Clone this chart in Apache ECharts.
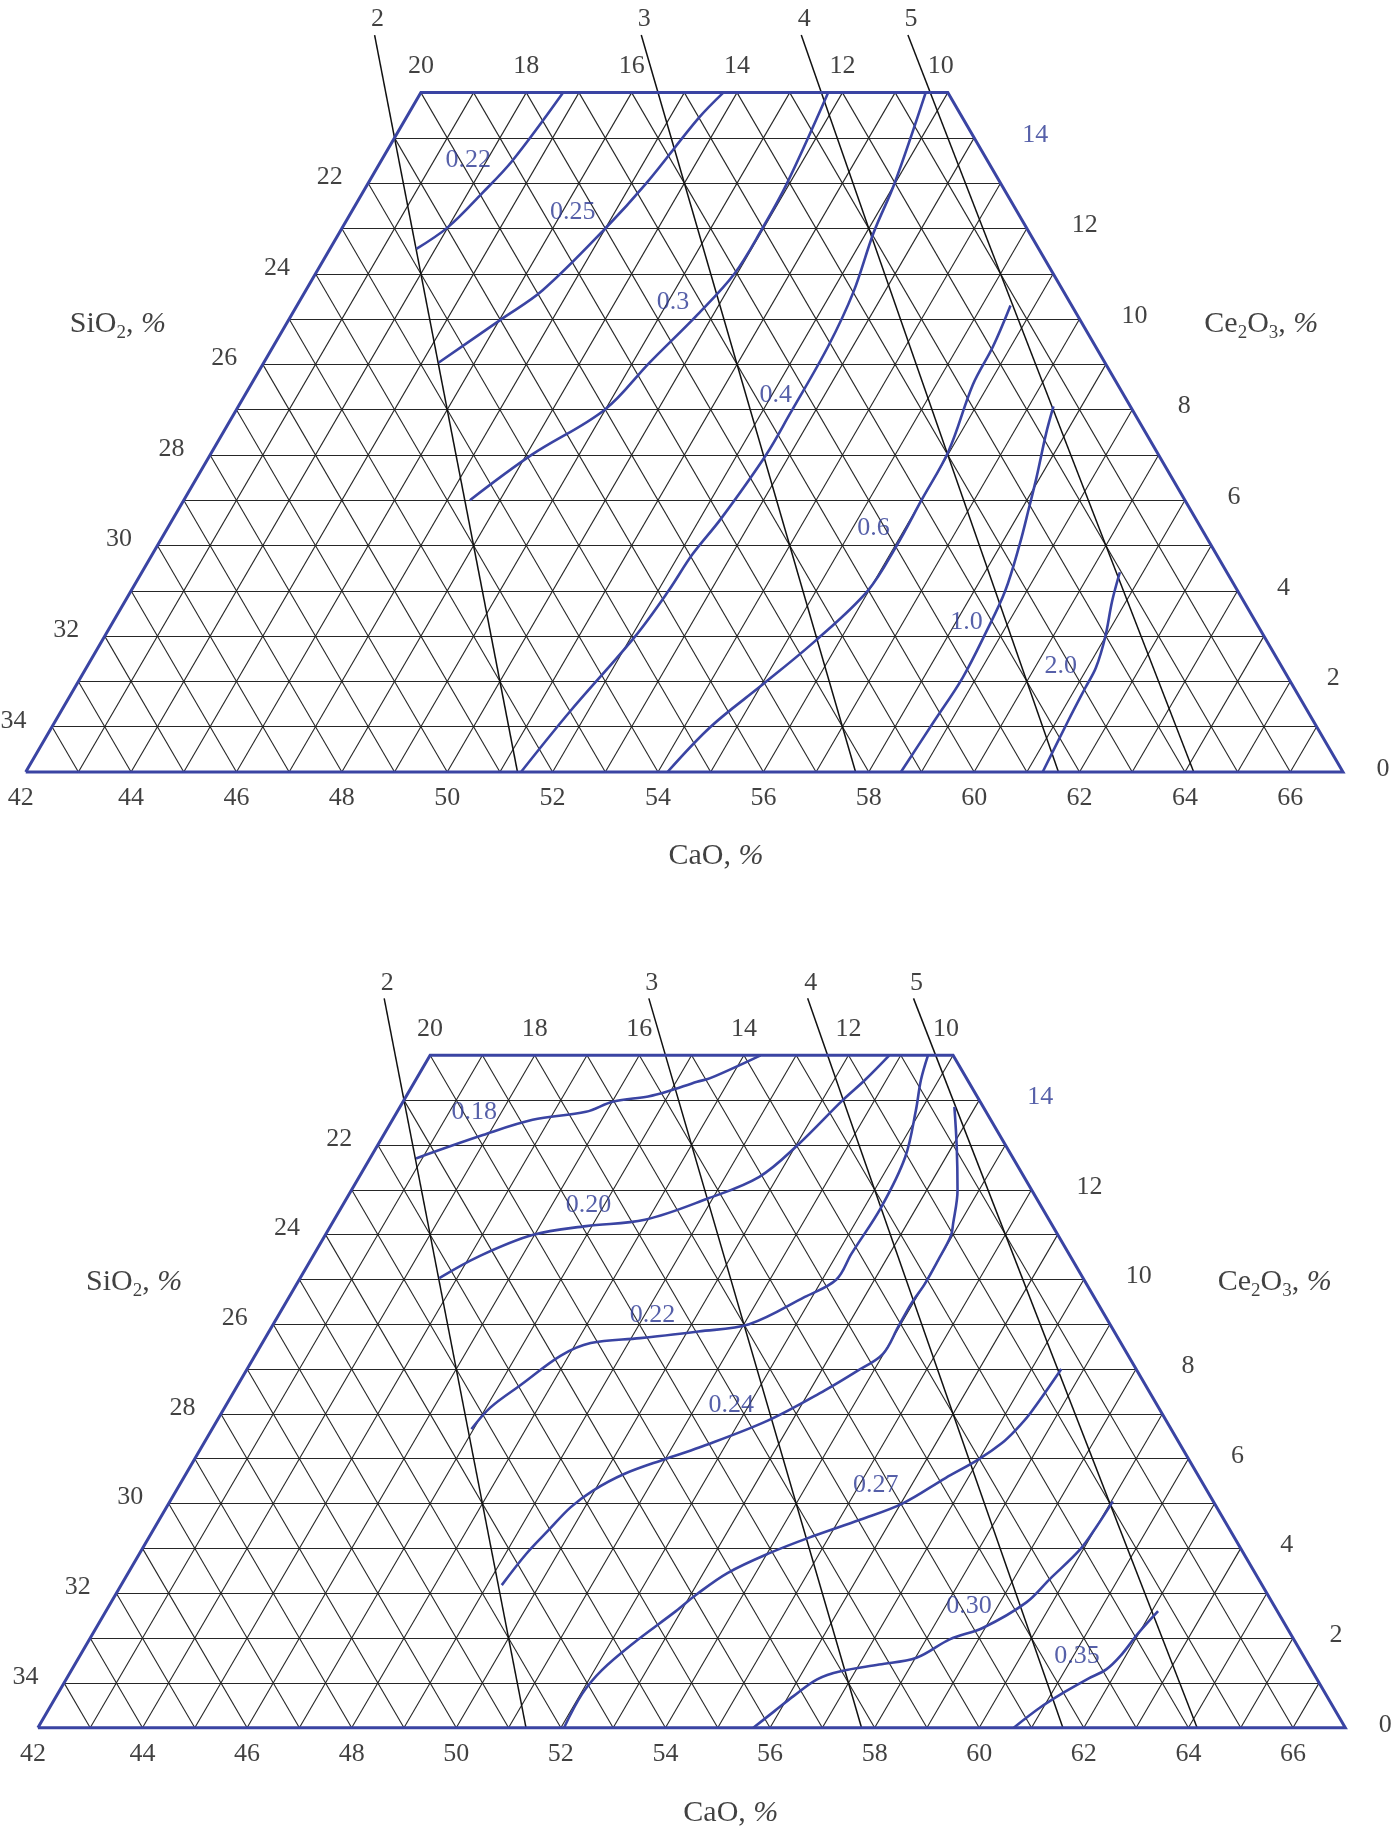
<!DOCTYPE html>
<html><head><meta charset="utf-8">
<script src="https://cdn.jsdelivr.net/npm/echarts@6/dist/echarts.min.js"></script>
<style>html,body{margin:0;padding:0;background:#fff}#c{width:1394px;height:1833px}</style>
</head><body><div id="c"></div>
<script>
// ---------------- DATA ----------------
const CAO_TICKS = [42, 44, 46, 48, 50, 52, 54, 56, 58, 60, 62, 64, 66];
const SIO2_LEFT_TICKS = [22, 24, 26, 28, 30, 32, 34];
const SIO2_TOP_TICKS = [20, 18, 16, 14, 12, 10];
const CE2O3_TICKS = [0, 2, 4, 6, 8, 10, 12, 14];
const BASICITY = [2, 3, 4, 5];            // CaO/SiO2 lines
const BASICITY_TOP_CE = 16.27;            // Ce2O3 where those lines end (above the diagram)

// isolines, points as [CaO %, Ce2O3 %]  -- upper diagram
const TOP_022 = [[44.7,15],[44.49,13.5],[44.27,12.77],[44.0,12.03],[43.64,11.55]];
const TOP_025 = [[47.74,15],[47.55,14.43],[47.28,13.0],[47.0,12.0],[46.49,10.63],[46.03,10.0],[45.32,9.04]];
const TOP_03  = [[49.73,15],[49.95,13.0],[49.98,12.0],[49.95,11.0],[49.7,10.1],[49.32,9.04],[48.99,8.0],[48.1,7.0],[47.43,6.0]];
const TOP_04  = [[51.58,15],[51.99,13.0],[52.14,11.9],[52.41,10.6],[52.53,9.4],[52.55,7.9],[52.55,7.0],[52.4,5.6],[52.25,4.8],[52.2,4.0],[52.07,3.0],[51.66,1.33],[51.4,0]];
const TOP_06  = [[55.54,10.3],[55.66,9.4],[55.7,8.55],[55.97,7.1],[56.0,6.0],[56.03,5.0],[55.98,4.0],[55.54,2.9],[55.02,1.93],[54.5,1.0],[54.18,0]];
const TOP_10  = [[57.47,8.07],[57.63,7.47],[57.93,6.51],[58.12,5.85],[58.35,5.03],[58.59,4.0],[58.68,3.11],[58.74,2.08],[58.68,1.12],[58.61,0]];
const TOP_20  = [[60.56,4.41],[60.73,3.78],[61.0,2.97],[61.16,2.3],[61.18,1.86],[61.22,1.12],[61.3,0]];
const TOP_NAMES = ['0.22', '0.25', '0.3', '0.4', '0.6', '1.0', '2.0'];
const TOP_LABEL_AT = [[43.65,13.5],[46.2,12.36],[49.1,10.37],[52.08,8.31],[55.4,5.38],[58.2,3.31],[60.48,2.33]];

// isolines -- lower diagram
const BOT_018 = [[42.88,12.7],[43.9,13.22],[44.68,13.56],[45.61,13.74],[46.02,13.97],[46.63,14.08],[46.94,14.19],[47.4,14.41],[47.61,14.49],[48.32,15]];
const BOT_020 = [[44.66,10.03],[45.17,10.51],[45.96,10.99],[46.89,11.19],[47.94,11.33],[48.9,11.8],[49.65,12.29],[50.03,13.0],[50.39,14.0],[50.59,14.45],[50.78,15]];
const BOT_022 = [[46.96,6.66],[47.08,7.14],[47.42,7.66],[47.85,8.3],[48.28,8.58],[49.17,8.69],[50.21,8.84],[51.1,9.0],[51.86,9.61],[52.27,10.0],[52.27,10.57],[52.32,11.62],[52.22,12.73],[51.9,13.78],[51.66,14.45],[51.52,15]];
const BOT_024 = [[49.28,3.18],[49.4,3.88],[49.56,4.4],[49.73,4.92],[49.97,5.29],[50.38,5.66],[50.99,5.99],[51.52,6.25],[52.53,6.85],[53.28,7.52],[53.7,7.97],[53.99,8.34],[53.98,8.94],[53.97,9.46],[54.01,9.9],[54.0,10.43],[53.97,10.98],[53.88,11.24],[53.59,11.99],[53.09,12.96],[52.6,13.85]];
const BOT_027 = [[52.06,0],[52.03,0.76],[52.14,1.28],[52.44,1.88],[52.9,2.6],[53.1,2.96],[53.46,3.45],[54.05,3.9],[54.68,4.27],[55.4,4.64],[56.03,5.0],[56.57,5.57],[56.99,5.98],[57.26,6.35],[57.38,6.65],[57.47,7.02],[57.57,8.0]];
const BOT_030 = [[55.68,0],[55.9,0.37],[56.1,0.71],[56.36,1.08],[56.72,1.26],[57.38,1.41],[58.02,1.56],[58.45,1.97],[58.96,2.23],[59.5,2.79],[59.69,3.31],[59.94,3.97],[60.0,4.49],[60.03,5.05]];
const BOT_035 = [[60.66,0],[60.94,0.45],[61.22,0.78],[61.52,1.08],[61.78,1.3],[61.9,1.6],[61.99,2.12],[62.12,2.6]];
const BOT_NAMES = ['0.18', '0.20', '0.22', '0.24', '0.27', '0.30', '0.35'];
const BOT_LABEL_AT = [[43.48,13.73],[46.7,11.66],[49.15,9.2],[51.66,7.2],[55.31,5.42],[58.45,2.71],[61.07,1.6]];

// ---------------- GEOMETRY ----------------
const SUM = 77;          // CaO + SiO2 + Ce2O3 in this section
const CAO_MIN = 42, CE_MAX = 15, SIO2_MIN = 10;
function xy(cao, ce) { return [cao - CAO_MIN + ce / 2, ce]; }

const BLUE = '#3a44a3', BLUE_TEXT = '#2c3893', GRIDC = '#262626', BLACK = '#111111';
const FONT = 'Liberation Serif';

function gridSegments() {
  const segs = [];
  for (let h = 1; h < CE_MAX; h++) segs.push({coords: [xy(CAO_MIN, h), xy(SUM - SIO2_MIN - h, h)]});
  for (let c = CAO_MIN + 1; c < SUM - SIO2_MIN; c++) {
    const t = Math.min(CE_MAX, SUM - SIO2_MIN - c);
    segs.push({coords: [xy(c, 0), xy(c, t)]});
  }
  for (let s = SIO2_MIN + 1; s < SUM - CAO_MIN; s++) {
    const t = Math.min(CE_MAX, SUM - CAO_MIN - s);
    segs.push({coords: [xy(SUM - s, 0), xy(SUM - s - t, t)]});
  }
  return segs;
}
function basicityCaO(k, ce) { return k * (SUM - ce) / (k + 1); }

function textSeries(i, data, label, z) {
  return {type: 'scatter', xAxisIndex: i, yAxisIndex: i, symbolSize: 1, silent: true, z: z || 10,
    itemStyle: {color: 'rgba(0,0,0,0)'}, clip: false, animation: false,
    label: Object.assign({show: true, fontFamily: FONT, fontSize: 26, color: BLACK,
      formatter: p => p.name}, label), data: data};
}

const panels = [
  {grid: {left: 25.7, top: 92.6, width: 1317.3, height: 679.4},
   iso: [TOP_022, TOP_025, TOP_03, TOP_04, TOP_06, TOP_10, TOP_20], names: TOP_NAMES, at: TOP_LABEL_AT,
   titles: {si: [1.75, 9.88], ce: [23.45, 9.88], ca: [13.1, -1.86]}},
  {grid: {left: 37.9, top: 1055.3, width: 1307.4, height: 672.4},
   iso: [BOT_018, BOT_020, BOT_022, BOT_024, BOT_027, BOT_030, BOT_035], names: BOT_NAMES, at: BOT_LABEL_AT,
   titles: {si: [1.84, 9.94], ce: [23.65, 9.94], ca: [13.25, -1.9]}}
];

const grids = [], xAxes = [], yAxes = [], series = [];
const richTitle = {
  t: {fontFamily: FONT, fontSize: 30, color: BLACK, lineHeight: 36},
  s: {fontFamily: FONT, fontSize: 19, color: BLACK, lineHeight: 23, verticalAlign: 'bottom'},
  i: {fontFamily: FONT, fontSize: 30, color: BLACK, lineHeight: 36, fontStyle: 'italic'}
};
panels.forEach((P, i) => {
  grids.push(Object.assign({containLabel: false}, P.grid));
  xAxes.push({type: 'value', gridIndex: i, min: 0, max: 25, show: false});
  yAxes.push({type: 'value', gridIndex: i, min: 0, max: CE_MAX, show: false});
  // triangular grid
  series.push({type: 'lines', coordinateSystem: 'cartesian2d', xAxisIndex: i, yAxisIndex: i, silent: true, z: 1,
    lineStyle: {color: GRIDC, width: 1.1, opacity: 1}, data: gridSegments(), animation: false});
  // basicity lines CaO/SiO2 = k
  series.push({type: 'lines', coordinateSystem: 'cartesian2d', xAxisIndex: i, yAxisIndex: i, silent: true, z: 2, clip: false,
    lineStyle: {color: BLACK, width: 1.5, opacity: 1}, animation: false,
    data: BASICITY.map(k => ({coords: [xy(basicityCaO(k, 0), 0), xy(basicityCaO(k, BASICITY_TOP_CE), BASICITY_TOP_CE)]}))});
  // isolines
  P.iso.forEach((pts, j) => series.push({type: 'line', name: P.names[j], xAxisIndex: i, yAxisIndex: i, silent: true, z: 4,
    clip: false, showSymbol: false, smooth: 0.35, animation: false,
    lineStyle: {color: BLUE, width: 2.6}, data: pts.map(p => xy(p[0], p[1]))}));
  // frame
  series.push({type: 'lines', coordinateSystem: 'cartesian2d', xAxisIndex: i, yAxisIndex: i, silent: true, z: 5, polyline: true, clip: false,
    lineStyle: {color: BLUE, width: 3, opacity: 1}, animation: false,
    data: [{coords: [xy(CAO_MIN, 0), xy(SUM - SIO2_MIN, 0), xy(SUM - SIO2_MIN - CE_MAX, CE_MAX), xy(CAO_MIN, CE_MAX), xy(CAO_MIN, 0)]}]});
  // tick labels
  series.push(textSeries(i, CAO_TICKS.map(c => ({name: String(c), value: xy(c, 0),
    label: c === CAO_MIN ? {offset: [-5, 0]} : undefined})), {position: 'bottom', distance: 13}));
  series.push(textSeries(i, SIO2_LEFT_TICKS.map(s => ({name: String(s), value: xy(CAO_MIN, SUM - CAO_MIN - s)})), {position: 'left', distance: 25, offset: [0, -6]}));
  series.push(textSeries(i, SIO2_TOP_TICKS.map(s => ({name: String(s), value: xy(SUM - CE_MAX - s, CE_MAX),
    label: s === SIO2_MIN ? {offset: [-7, 0]} : undefined})), {position: 'top', distance: 13}));
  series.push(textSeries(i, CE2O3_TICKS.map(c => ({name: String(c), value: xy(SUM - SIO2_MIN - c, c),
    label: {offset: [40 + 1.5 * c, -3], color: c === 14 ? BLUE_TEXT : BLACK}})), {position: 'inside'}));
  series.push(textSeries(i, BASICITY.map(k => ({name: String(k), value: xy(basicityCaO(k, BASICITY_TOP_CE), BASICITY_TOP_CE)})), {position: 'top', distance: 2, offset: [3, 0]}));
  // isoline labels
  series.push(textSeries(i, P.names.map((n, j) => ({name: n, value: xy(P.at[j][0], P.at[j][1])})), {position: 'inside', color: BLUE_TEXT}, 6));
  // axis titles
  series.push(textSeries(i, [
    {name: '{t|SiO}{s|2}{t|, }{i|%}', value: P.titles.si},
    {name: '{t|Ce}{s|2}{t|O}{s|3}{t|, }{i|%}', value: P.titles.ce},
    {name: '{t|CaO, }{i|%}', value: P.titles.ca}
  ], {position: 'inside', rich: richTitle}));
});

const chart = echarts.init(document.getElementById('c'), null, {renderer: 'canvas'});
chart.setOption({animation: false, backgroundColor: '#ffffff', grid: grids, xAxis: xAxes, yAxis: yAxes, series: series});
</script></body></html>
